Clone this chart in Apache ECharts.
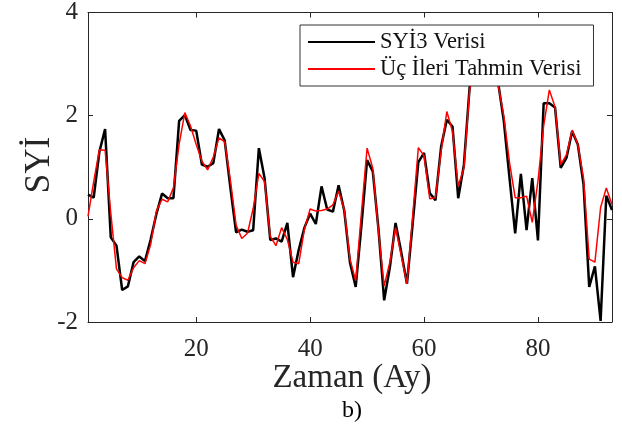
<!DOCTYPE html>
<html>
<head>
<meta charset="utf-8">
<script src="https://cdn.jsdelivr.net/npm/echarts@6/dist/echarts.min.js"></script>
<style>html,body{margin:0;padding:0;background:#fff;}#c{width:622px;height:430px;}</style>
</head>
<body>
<div id="c"></div>
<script>
const months = Array.from({length: 93}, (_, i) => i + 1);
const observed = [0.47,0.41,1.3,1.74,-0.36,-0.52,-1.38,-1.31,-0.84,-0.73,-0.82,-0.4,0.09,0.49,0.40,0.40,1.90,2.01,1.72,1.71,1.05,1.01,1.08,1.74,1.52,0.6,-0.26,-0.21,-0.25,-0.22,1.37,0.79,-0.41,-0.38,-0.44,-0.08,-1.13,-0.6,-0.17,0.1,-0.1,0.63,0.18,0.14,0.65,0.15,-0.85,-1.32,-0.14,1.14,0.92,-0.2,-1.58,-0.94,-0.08,-0.65,-1.26,-0.1,1.1,1.28,0.5,0.36,1.4,1.92,1.79,0.40,1.05,2.55,3.0,3.2,3.1,2.9,2.65,1.9,0.8,-0.28,0.87,-0.22,0.79,-0.42,2.24,2.24,2.16,0.99,1.18,1.7,1.44,0.67,-1.32,-0.92,-1.98,0.45,0.17];
const forecast = [0.05,0.72,1.34,1.33,0.11,-0.97,-1.14,-1.19,-0.95,-0.81,-0.87,-0.5,0.15,0.38,0.33,0.6,1.45,2.06,1.8,1.44,1.12,0.95,1.2,1.57,1.49,0.75,-0.12,-0.38,-0.28,0.2,0.88,0.72,-0.34,-0.52,-0.17,-0.4,-0.84,-0.87,-0.2,0.19,0.15,0.16,0.19,0.27,0.54,0.17,-0.78,-1.2,0.1,1.37,0.98,-0.25,-1.3,-0.84,-0.17,-0.72,-1.26,0.05,1.38,1.22,0.39,0.41,1.31,2.08,1.69,0.63,0.99,2.5,2.9,3.1,3.1,2.9,2.6,2.0,1.1,0.41,0.41,0.44,-0.07,0.73,1.8,2.5,2.17,1.05,1.24,1.72,1.44,0.79,-0.78,-0.84,0.22,0.6,0.28];
const xTicks = [20, 40, 60, 80];
const seriesNames = ['SYİ3 Verisi', 'Üç İleri Tahmin Verisi'];

const FONT = '"Liberation Serif", "DejaVu Serif", serif';
const axisColor = '#262626';
const chart = echarts.init(document.getElementById('c'), null, {renderer: 'canvas'});
const xBase = {
  type: 'value', min: 1, max: 93,
  axisLine: {show: true, onZero: false, lineStyle: {color: axisColor, width: 1}},
  splitLine: {show: false},
  axisTick: {show: true, inside: true, length: 5, customValues: xTicks, lineStyle: {color: axisColor}},
};
const yBase = {
  type: 'value', min: -2, max: 4, interval: 2,
  axisLine: {show: true, onZero: false, lineStyle: {color: axisColor, width: 1}},
  splitLine: {show: false},
  axisTick: {show: true, inside: true, length: 5, lineStyle: {color: axisColor}},
};
chart.setOption({
  animation: false,
  backgroundColor: '#fff',
  grid: {left: 88, right: 10, top: 9, bottom: 108, containLabel: false},
  xAxis: [
    Object.assign({}, xBase, {position: 'bottom',
      axisLabel: {show: true, customValues: xTicks, fontFamily: FONT, fontSize: 25, color: axisColor, margin: 15}}),
    Object.assign({}, xBase, {position: 'top', axisLabel: {show: false}})
  ],
  yAxis: [
    Object.assign({}, yBase, {position: 'left',
      axisLabel: {show: true, fontFamily: FONT, fontSize: 25, color: axisColor, margin: 10}}),
    Object.assign({}, yBase, {position: 'right', axisLabel: {show: false}})
  ],
  legend: {
    show: true, orient: 'vertical', left: 300, top: 25,
    padding: [5, 12, 5, 8], itemGap: 3, itemWidth: 67, itemHeight: 2, itemTextGap: 6,
    icon: 'rect',
    backgroundColor: '#fff', borderColor: '#333', borderWidth: 1, borderRadius: 0,
    textStyle: {fontFamily: FONT, fontSize: 22.5, color: '#111', lineHeight: 24},
    data: seriesNames
  },
  series: [
    {name: seriesNames[0], type: 'line', symbol: 'none', xAxisIndex: 0, yAxisIndex: 0,
      data: months.map((m, i) => [m, observed[i]]),
      lineStyle: {color: '#000', width: 2.5}, itemStyle: {color: '#000'}, z: 2},
    {name: seriesNames[1], type: 'line', symbol: 'none', xAxisIndex: 0, yAxisIndex: 0,
      data: months.map((m, i) => [m, forecast[i]]),
      lineStyle: {color: '#ff0000', width: 1.5}, itemStyle: {color: '#ff0000'}, z: 3}
  ],
  graphic: [
    {type: 'text', x: 40, y: 165, rotation: Math.PI / 2,
      style: {text: 'SYİ', font: '35px ' + FONT, fill: '#262626', textAlign: 'center', textVerticalAlign: 'middle'}},
    {type: 'text', x: 352, y: 378,
      style: {text: 'Zaman (Ay)', font: '33px ' + FONT, fill: '#262626', textAlign: 'center', textVerticalAlign: 'middle'}},
    {type: 'text', x: 352, y: 411,
      style: {text: 'b)', font: '24px ' + FONT, fill: '#000', textAlign: 'center', textVerticalAlign: 'middle'}}
  ]
});
</script>
</body>
</html>
